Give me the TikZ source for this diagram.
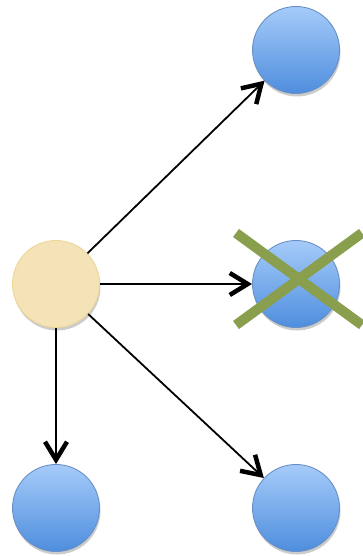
\documentclass[tikz,border=0pt]{standalone}
\usetikzlibrary{arrows.meta,shadows}
\definecolor{bluetop}{HTML}{A6CBF9}
\definecolor{bluebot}{HTML}{4E8EDE}
\definecolor{blueedge}{HTML}{6890C6}
\definecolor{beigefill}{HTML}{F4E3B6}
\definecolor{beigeedge}{HTML}{EDD697}
\definecolor{crossgreen}{HTML}{8A9F4E}
\tikzset{
  ball/.style={circle, minimum size=87pt, inner sep=0pt, line width=0.9pt,
    draw=blueedge, top color=bluetop, bottom color=bluebot,
    drop shadow={opacity=0.2, shadow xshift=1pt, shadow yshift=-3pt, fill=black}},
  source/.style={circle, minimum size=87pt, inner sep=0pt, line width=0.9pt,
    draw=beigeedge, fill=beigefill,
    drop shadow={opacity=0.2, shadow xshift=1pt, shadow yshift=-3pt, fill=black}},
  link/.style={line width=1.8pt, -{Straight Barb[length=18pt,width=22pt,line width=4.5pt]}},
  crossbar/.style={line width=10pt, crossgreen, line cap=butt}
}
\begin{document}
\begin{tikzpicture}[x=1pt,y=-1pt]
\useasboundingbox (0,0) rectangle (363,556);
\node[source] (s) at (56,284) {};
\node[ball] (tr) at (296,50) {};
\node[ball] (mr) at (296,284) {};
\node[ball] (bl) at (56,508) {};
\node[ball] (br) at (296,508) {};
\draw[link] (s) -- (tr);
\draw[link] (s) -- (mr);
\draw[link] (s) -- (bl);
\draw[link] (s) -- (br);
\coordinate (x1) at (236,233);
\coordinate (x2) at (362,325);
\coordinate (x3) at (236,325);
\coordinate (x4) at (362,233);
\draw[crossbar] (x1) -- (x2);
\draw[crossbar] (x3) -- (x4);
\end{tikzpicture}
\end{document}
